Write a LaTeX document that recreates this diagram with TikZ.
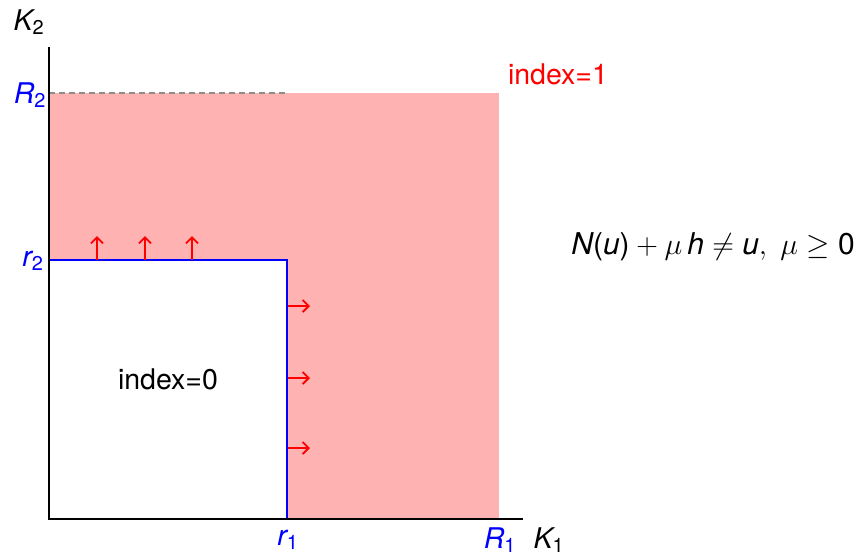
\documentclass[tikz,border=0pt]{standalone}
\usepackage{fix-cm}
\usepackage{amsmath}
\usepackage{fontspec}
\setmainfont{TeX Gyre Heros}
\usetikzlibrary{arrows.meta}
\newcommand\vv[1]{\textit{#1}}
\begin{document}
\begin{tikzpicture}[x=1pt,y=-1pt,
  lbl/.style={font=\fontsize{28.5}{32}\selectfont, inner sep=0pt},
  bluelbl/.style={lbl, text=blue},
  arr/.style={red, line width=1.8pt, -{Straight Barb[length=6pt,width=12pt,line width=1.8pt]}},
  axis/.style={black, line width=1.8pt}]
\useasboundingbox (0,0) rectangle (859,555);
% regions
\fill[red!30] (49,93) rectangle (499,519);
\fill[white] (49,260) rectangle (287,519);
\draw[black!45, dash pattern=on 6pt off 4pt, line width=1.2pt] (49,93) -- (285,93);
\draw[blue, line width=2.2pt] (49,260) -- (287,260) -- (287,519);
% axes
\coordinate (o) at (49,519);
\coordinate (ytop) at (49,47);
\coordinate (xend) at (523,519);
\draw[axis] (ytop) -- (o) -- (xend);
% arrows
\foreach \x/\n in {97/a,145/b,192/c} {
  \coordinate (u\n) at (\x,260); \coordinate (v\n) at (\x,236);
  \draw[arr] (u\n) -- (v\n);
}
\foreach \y/\n in {306/a,378/b,448/c} {
  \coordinate (p\n) at (288,\y); \coordinate (q\n) at (310,\y);
  \draw[arr] (p\n) -- (q\n);
}
% labels
\node[lbl] (K2) at (29,22) {$\vv{K}_{\text{2}}$};
\node[bluelbl] (R2) at (30,95) {$\vv{R}_{\text{2}}$};
\node[bluelbl] (r2) at (33,261) {$\vv{r}_{\text{2}}$};
\node[bluelbl] (r1) at (288,540) {$\vv{r}_{\text{1}}$};
\node[bluelbl] (R1) at (500,540) {$\vv{R}_{\text{1}}$};
\node[lbl] (K1) at (549,540) {$\vv{K}_{\text{1}}$};
\node[lbl, text=red] (i1) at (558,74) {index=1};
\node[lbl] (i0) at (168,379) {index=0};
\node[lbl, font=\fontsize{30}{34}\selectfont, anchor=east] (f) at (855,247) {$\vv{N}\text{(}\vv{u}\text{)}+\mu\,\vv{h}\neq\vv{u},\ \mu\geq\text{0}$};
\end{tikzpicture}
\end{document}
